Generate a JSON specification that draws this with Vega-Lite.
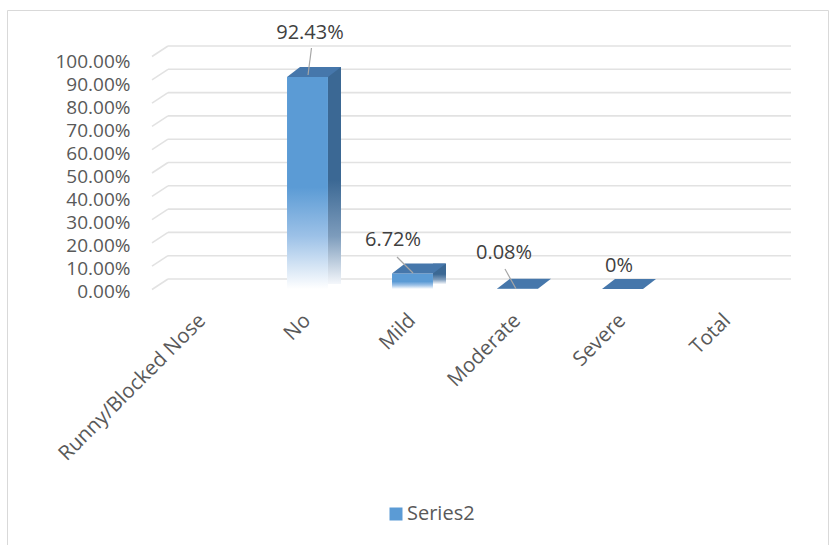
{
  "$schema": "https://vega.github.io/schema/vega-lite/v6.json",
  "width": 821,
  "height": 535,
  "autosize": {"type": "none"},
  "padding": {"left": 7, "top": 10, "right": 7, "bottom": 0},
  "background": "#ffffff",
  "config": {
    "view": {"stroke": "#d9d9d9", "strokeWidth": 1},
    "font": "Open Sans"
  },
  "resolve": {"scale": {"x": "independent", "y": "independent"}},
  "layer": [
    {
      "description": "Back-wall gridlines with their slanted floor joins",
      "data": {"values": [{"v": 0}, {"v": 10}, {"v": 20}, {"v": 30}, {"v": 40}, {"v": 50}, {"v": 60}, {"v": 70}, {"v": 80}, {"v": 90}, {"v": 100}]},
      "layer": [
        {
          "mark": {"type": "rule", "stroke": "#e2e2e2", "strokeWidth": 1.6},
          "encoding": {
            "x": {"datum": 0, "type": "quantitative", "scale": {"domain": [0, 1], "range": [161, 784], "nice": false, "zero": false}, "axis": null},
            "x2": {"datum": 1},
            "y": {"field": "v", "type": "quantitative", "scale": {"domain": [0, 100], "range": [269, 36], "nice": false}, "axis": null}
          }
        },
        {
          "mark": {"type": "rule", "stroke": "#e2e2e2", "strokeWidth": 1.6, "yOffset": 10.5},
          "encoding": {
            "x": {"datum": -0.0257, "type": "quantitative"},
            "x2": {"datum": 0},
            "y": {"field": "v", "type": "quantitative"},
            "y2": {"field": "v"}
          }
        }
      ]
    },
    {
      "description": "Runny/Blocked Nose severity shares",
      "data": {
        "values": [
          {"cat": "Runny/Blocked Nose", "pct": null},
          {"cat": "No", "pct": 92.43},
          {"cat": "Mild", "pct": 6.72},
          {"cat": "Moderate", "pct": 0.08},
          {"cat": "Severe", "pct": 0},
          {"cat": "Total", "pct": null}
        ]
      },
      "transform": [
        {"calculate": "datum.pct == null ? '' : (datum.pct == 0 ? '0%' : format(datum.pct, '.2f') + '%')", "as": "label"}
      ],
      "encoding": {
        "x": {
          "field": "cat",
          "type": "nominal",
          "sort": null,
          "scale": {
            "domain": ["Runny/Blocked Nose", "No", "Mild", "Moderate", "Severe", "Total"],
            "range": [143, 773],
            "paddingInner": 0.61,
            "paddingOuter": 0.305
          },
          "axis": {
            "title": null,
            "orient": "bottom",
            "offset": -256,
            "domain": false,
            "ticks": false,
            "grid": false,
            "labelAngle": -45,
            "labelAlign": "right",
            "labelBaseline": "middle",
            "labelPadding": 28,
            "labelFont": "Open Sans",
            "labelFontSize": 20.5,
            "labelColor": "#595959",
            "labelLimit": 0,
            "labelOverlap": false
          }
        },
        "y": {
          "field": "pct",
          "type": "quantitative",
          "scale": {"domain": [0, 100], "range": [279, 49.6], "nice": false},
          "axis": {
            "title": null,
            "orient": "left",
            "offset": -123,
            "domain": false,
            "ticks": false,
            "tickSize": 0,
            "grid": false,
            "values": [0, 10, 20, 30, 40, 50, 60, 70, 80, 90, 100],
            "labelExpr": "format(datum.value, '.2f') + '%'",
            "labelPadding": 0,
            "labelOffset": 2,
            "labelFont": "Open Sans",
            "labelFontSize": 19,
            "labelColor": "#595959"
          }
        }
      },
      "layer": [
        {
          "description": "Front faces",
          "mark": {
            "type": "bar",
            "color": {
              "gradient": "linear", "x1": 0, "y1": 0, "x2": 0, "y2": 1,
              "stops": [
                {"offset": 0, "color": "#5b9bd5"},
                {"offset": 0.52, "color": "#5b9bd5"},
                {"offset": 0.75, "color": "#9cc1e7"},
                {"offset": 1, "color": "#ffffff"}
              ]
            }
          },
          "encoding": {"y2": {"datum": 0}}
        },
        {
          "description": "Right side faces",
          "transform": [{"filter": "datum.pct > 1"}],
          "mark": {
            "type": "bar",
            "size": 13,
            "xOffset": 27,
            "yOffset": -10,
            "y2Offset": -5,
            "color": {
              "gradient": "linear", "x1": 0, "y1": 0, "x2": 0, "y2": 1,
              "stops": [
                {"offset": 0, "color": "#3b6894"},
                {"offset": 0.52, "color": "#3b6894"},
                {"offset": 0.78, "color": "#7d9cbc"},
                {"offset": 1, "color": "#f4f7fb"}
              ]
            }
          },
          "encoding": {"y2": {"datum": 0}}
        },
        {
          "description": "Top faces",
          "transform": [{"filter": "datum.pct != null"}],
          "mark": {
            "type": "point",
            "shape": "M-0.603,0L0.603,0L0.985,-0.294L-0.221,-0.294Z",
            "size": 4624,
            "filled": true,
            "fill": "#4677ab",
            "opacity": 1,
            "strokeWidth": 0
          }
        },
        {
          "description": "Leader line for No",
          "transform": [{"filter": "datum.cat == 'No'"}],
          "mark": {"type": "point", "shape": "M0.017,-0.067L0.133,-0.967", "size": 3600, "filled": false, "stroke": "#a6a6a6", "strokeWidth": 1.2, "opacity": 1}
        },
        {
          "description": "Leader line for Mild",
          "transform": [{"filter": "datum.cat == 'Mild'"}],
          "mark": {"type": "point", "shape": "M0.017,-0.02L-0.517,-0.553", "size": 3600, "filled": false, "stroke": "#a6a6a6", "strokeWidth": 1.2, "opacity": 1}
        },
        {
          "description": "Leader line for Moderate",
          "transform": [{"filter": "datum.cat == 'Moderate'"}],
          "mark": {"type": "point", "shape": "M-0.05,0L-0.417,-0.66", "size": 3600, "filled": false, "stroke": "#a6a6a6", "strokeWidth": 1.2, "opacity": 1}
        },
        {
          "transform": [{"filter": "datum.cat == 'No'"}],
          "mark": {"type": "text", "dx": 2.5, "dy": -44, "font": "Open Sans", "fontSize": 20, "color": "#404040", "baseline": "middle", "align": "center"},
          "encoding": {"text": {"field": "label"}}
        },
        {
          "transform": [{"filter": "datum.cat == 'Mild'"}],
          "mark": {"type": "text", "dx": -19.5, "dy": -33.6, "font": "Open Sans", "fontSize": 20, "color": "#404040", "baseline": "middle", "align": "center"},
          "encoding": {"text": {"field": "label"}}
        },
        {
          "transform": [{"filter": "datum.cat == 'Moderate'"}],
          "mark": {"type": "text", "dx": -13.5, "dy": -36, "font": "Open Sans", "fontSize": 20, "color": "#404040", "baseline": "middle", "align": "center"},
          "encoding": {"text": {"field": "label"}}
        },
        {
          "transform": [{"filter": "datum.cat == 'Severe'"}],
          "mark": {"type": "text", "dx": -3.5, "dy": -23, "font": "Open Sans", "fontSize": 20, "color": "#404040", "baseline": "middle", "align": "center"},
          "encoding": {"text": {"field": "label"}}
        },
        {
          "description": "Series legend",
          "transform": [{"filter": "datum.cat == 'No'"}],
          "mark": {"type": "point", "filled": true, "opacity": 0},
          "encoding": {
            "color": {
              "datum": "Series2",
              "type": "nominal",
              "scale": {"range": ["#5b9bd5"]},
              "legend": {
                "title": null,
                "orient": "none",
                "legendX": 379,
                "legendY": 494,
                "padding": 0,
                "symbolType": "square",
                "symbolSize": 169,
                "symbolOpacity": 1,
                "symbolFillColor": "#5b9bd5",
                "symbolStrokeWidth": 0,
                "labelFont": "Open Sans",
                "labelFontSize": 20,
                "labelColor": "#595959",
                "labelOffset": 1
              }
            }
          }
        }
      ]
    }
  ]
}
